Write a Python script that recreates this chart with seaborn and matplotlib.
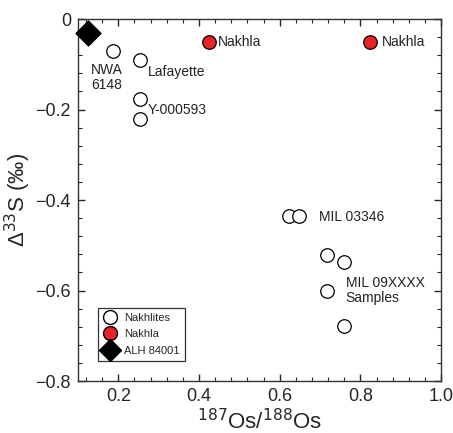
import matplotlib
matplotlib.use("Agg")
import matplotlib.pyplot as plt
import seaborn as sns
import pandas as pd
from matplotlib.ticker import MultipleLocator
from matplotlib.lines import Line2D

# data
nakhlite_os = [0.187, 0.255, 0.255, 0.255, 0.624, 0.648, 0.718, 0.760, 0.718, 0.760]
nakhlite_s33 = [-0.070, -0.090, -0.177, -0.221, -0.436, -0.436, -0.522, -0.537, -0.600, -0.679]
nakhla_os = [0.425, 0.824]
nakhla_s33 = [-0.051, -0.051]
alh_os = [0.125]
alh_s33 = [-0.030]

labels = ["NWA\n6148", "Lafayette", "Y-000593", "Nakhla", "Nakhla", "MIL 03346", "MIL 09XXXX\nSamples"]
label_x = [0.132, 0.274, 0.274, 0.447, 0.854, 0.698, 0.763]
label_y = [-0.098, -0.117, -0.200, -0.051, -0.051, -0.438, -0.567]
label_va = ["top", "center", "center", "center", "center", "center", "top"]

sns.set_style("ticks")
plt.rcParams["font.family"] = ["Liberation Sans", "DejaVu Sans"]

fig = plt.figure(figsize=(4.53, 4.33), dpi=100)
ax = fig.add_axes([0.172, 0.120, 0.802, 0.836])

df_n = pd.DataFrame({"os": nakhlite_os, "s33": nakhlite_s33})
df_k = pd.DataFrame({"os": nakhla_os, "s33": nakhla_s33})
df_a = pd.DataFrame({"os": alh_os, "s33": alh_s33})

sns.scatterplot(data=df_n, x="os", y="s33", ax=ax, marker="o", s=95,
                facecolor="white", edgecolor="black", linewidth=0.9, zorder=3)
sns.scatterplot(data=df_k, x="os", y="s33", ax=ax, marker="o", s=95,
                color="#e8232a", edgecolor="black", linewidth=0.9, zorder=3)
sns.scatterplot(data=df_a, x="os", y="s33", ax=ax, marker="D", s=160,
                color="black", edgecolor="black", zorder=4, clip_on=False)

for t, x, y, va in zip(labels, label_x, label_y, label_va):
    ax.text(x, y, t, fontsize=10, va=va, ha="left", color="#222222", linespacing=1.1)

ax.set_xlim(0.1, 1.0)
ax.set_ylim(-0.8, 0)
ax.xaxis.set_major_locator(MultipleLocator(0.2))
ax.xaxis.set_minor_locator(MultipleLocator(0.04))
ax.yaxis.set_major_locator(MultipleLocator(0.2))
ax.yaxis.set_minor_locator(MultipleLocator(0.04))
ax.set_xticks([0.2, 0.4, 0.6, 0.8, 1.0])
ax.set_xticklabels(["0.2", "0.4", "0.6", "0.8", "1.0"])
ax.set_yticks([0, -0.2, -0.4, -0.6, -0.8])
ax.set_yticklabels(["0", "\u22120.2", "\u22120.4", "\u22120.6", "\u22120.8"])
ax.tick_params(which="both", direction="in", top=True, right=True, labelsize=13, pad=5)
ax.tick_params(which="major", length=5, width=1)
ax.tick_params(which="minor", length=3, width=0.8)
for sp in ax.spines.values():
    sp.set_linewidth(1.0)
    sp.set_color("#333333")

ax.set_xlabel("$^{187}$Os/$^{188}$Os", fontsize=16, labelpad=3)
ax.set_ylabel("\u0394$^{33}$S (\u2030)", fontsize=16, labelpad=2)

handles = [
    Line2D([], [], marker="o", linestyle="", markersize=10, markerfacecolor="white",
           markeredgecolor="black", label="Nakhlites"),
    Line2D([], [], marker="o", linestyle="", markersize=10, markerfacecolor="#e8232a",
           markeredgecolor="black", label="Nakhla"),
    Line2D([], [], marker="D", linestyle="", markersize=11, markerfacecolor="black",
           markeredgecolor="black", label="ALH 84001"),
]
leg = ax.legend(handles=handles, loc="lower left", bbox_to_anchor=(0.04, 0.04),
                fontsize=8, frameon=True, fancybox=False, framealpha=1,
                edgecolor="#333333", handletextpad=0.6, borderpad=0.45, labelspacing=0.6,
                handlelength=1.3)
leg.get_frame().set_linewidth(0.9)

fig.savefig("out.png", dpi=100)
